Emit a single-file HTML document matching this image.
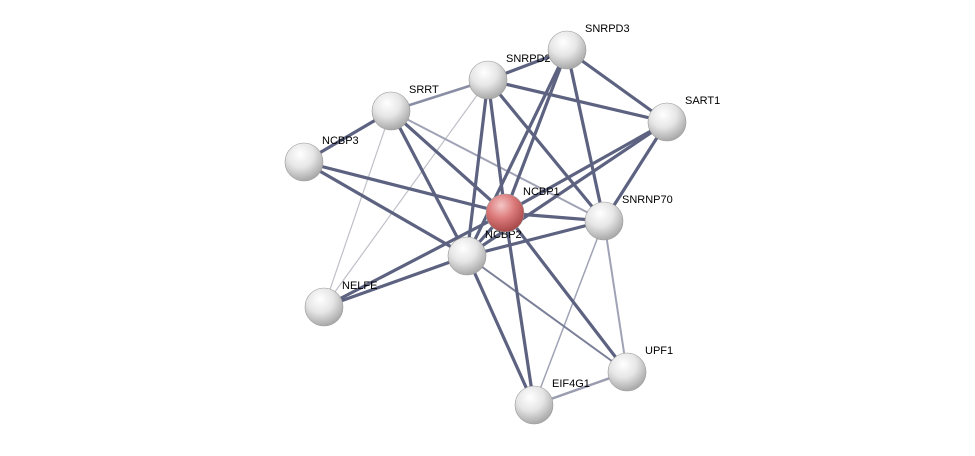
<!DOCTYPE html>
<html><head><meta charset="utf-8"><style>
html,body{margin:0;padding:0;background:#fff;}
svg text{font-family:"Liberation Sans",sans-serif;font-size:11px;fill:#000;}
</style></head><body>
<svg width="975" height="451" viewBox="0 0 975 451" xmlns="http://www.w3.org/2000/svg">
<defs>
<radialGradient id="g" cx="0.4" cy="0.3" r="0.7">
<stop offset="0" stop-color="#ffffff"/><stop offset="0.5" stop-color="#e6e6e6"/><stop offset="1" stop-color="#a9a9a9"/>
</radialGradient>
<radialGradient id="r" cx="0.4" cy="0.3" r="0.7">
<stop offset="0" stop-color="#f4c6c6"/><stop offset="0.5" stop-color="#dc7a7a"/><stop offset="1" stop-color="#a84848"/>
</radialGradient>
</defs>
<g stroke="#bfc0c8" stroke-width="1.2">
<line x1="488" y1="80" x2="324" y2="307"/>
<line x1="391" y1="111" x2="324" y2="307"/>
<line x1="391" y1="111" x2="604" y2="221" stroke="#a0a3b5" stroke-width="2"/>
<line x1="604" y1="221" x2="627" y2="372" stroke="#a0a3b5" stroke-width="2"/>
<line x1="604" y1="221" x2="534" y2="405" stroke="#a0a3b5" stroke-width="1.5"/>
<line x1="627" y1="372" x2="534" y2="405" stroke="#9a9db0" stroke-width="2.5"/>
<line x1="467" y1="256" x2="627" y2="372" stroke="#7a7f98" stroke-width="2"/>
<line x1="488" y1="80" x2="391" y2="111" stroke="#8a8ea5" stroke-width="2.5"/>
</g>
<g stroke="#5c6280" stroke-width="3.2">
<line x1="567" y1="50" x2="488" y2="80"/>
<line x1="567" y1="50" x2="667" y2="122"/>
<line x1="567" y1="50" x2="604" y2="221"/>
<line x1="567" y1="50" x2="505" y2="213"/>
<line x1="567" y1="50" x2="467" y2="256"/>
<line x1="488" y1="80" x2="667" y2="122"/>
<line x1="488" y1="80" x2="604" y2="221"/>
<line x1="488" y1="80" x2="505" y2="213"/>
<line x1="488" y1="80" x2="467" y2="256"/>
<line x1="391" y1="111" x2="304" y2="162"/>
<line x1="391" y1="111" x2="505" y2="213"/>
<line x1="391" y1="111" x2="467" y2="256"/>
<line x1="304" y1="162" x2="505" y2="213"/>
<line x1="304" y1="162" x2="467" y2="256"/>
<line x1="667" y1="122" x2="505" y2="213"/>
<line x1="667" y1="122" x2="467" y2="256"/>
<line x1="667" y1="122" x2="604" y2="221"/>
<line x1="505" y1="213" x2="604" y2="221"/>
<line x1="505" y1="213" x2="467" y2="256"/>
<line x1="505" y1="213" x2="324" y2="307"/>
<line x1="505" y1="213" x2="627" y2="372"/>
<line x1="505" y1="213" x2="534" y2="405"/>
<line x1="467" y1="256" x2="604" y2="221"/>
<line x1="467" y1="256" x2="324" y2="307"/>
<line x1="467" y1="256" x2="534" y2="405"/>
</g>
<text x="585" y="32">SNRPD3</text>
<text x="506" y="62">SNRPD2</text>
<text x="409" y="93">SRRT</text>
<text x="685" y="104">SART1</text>
<text x="322" y="144">NCBP3</text>
<text x="523" y="195">NCBP1</text>
<text x="622" y="203">SNRNP70</text>
<text x="485" y="238">NCBP2</text>
<text x="342" y="289">NELFE</text>
<text x="645" y="354">UPF1</text>
<text x="552" y="387">EIF4G1</text>
<g stroke="#999" stroke-width="0.6">
<circle cx="567" cy="50" r="19" fill="url(#g)"/>
<circle cx="488" cy="80" r="19" fill="url(#g)"/>
<circle cx="391" cy="111" r="19" fill="url(#g)"/>
<circle cx="667" cy="122" r="19" fill="url(#g)"/>
<circle cx="304" cy="162" r="19" fill="url(#g)"/>
<circle cx="604" cy="221" r="19" fill="url(#g)"/>
<circle cx="467" cy="256" r="19" fill="url(#g)"/>
<circle cx="324" cy="307" r="19" fill="url(#g)"/>
<circle cx="627" cy="372" r="19" fill="url(#g)"/>
<circle cx="534" cy="405" r="19" fill="url(#g)"/>
<circle cx="505" cy="213" r="19" fill="url(#r)"/>
</g>
</svg>
</body></html>
